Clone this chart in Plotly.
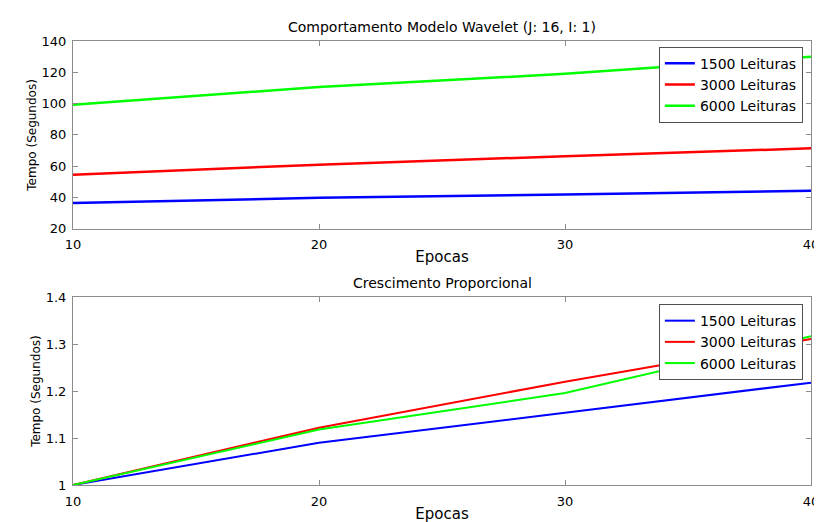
import plotly.graph_objects as go
from plotly.subplots import make_subplots

epocas = [10, 20, 30, 40]
series_names = ["1500 Leituras", "3000 Leituras", "6000 Leituras"]
colors = ["#0000ff", "#ff0000", "#00ff00"]

# Comportamento Modelo Wavelet (seconds)
tempo_1500 = [36.5, 39.8, 42.0, 44.3]
tempo_3000 = [54.6, 61.0, 66.4, 71.4]
tempo_6000 = [99.2, 110.6, 119.0, 130.0]

# Crescimento Proporcional
prop_1500 = [1.0, 1.09, 1.154, 1.218]
prop_3000 = [1.0, 1.122, 1.22, 1.311]
prop_6000 = [1.0, 1.118, 1.196, 1.317]

fig = make_subplots(rows=2, cols=1, vertical_spacing=0.154)

for name, color, ys in zip(series_names, colors, [tempo_1500, tempo_3000, tempo_6000]):
    fig.add_trace(
        go.Scatter(x=epocas, y=ys, mode="lines", name=name,
                   line=dict(color=color, width=2.5), legend="legend"),
        row=1, col=1,
    )
for name, color, ys in zip(series_names, colors, [prop_1500, prop_3000, prop_6000]):
    fig.add_trace(
        go.Scatter(x=epocas, y=ys, mode="lines", name=name,
                   line=dict(color=color, width=2), legend="legend2"),
        row=2, col=1,
    )

axis_style = dict(
    showline=True, linecolor="#8c8c8c", linewidth=1, mirror="ticks",
    ticks="inside", ticklen=5, tickcolor="#8c8c8c", showgrid=False, zeroline=False,
    tickfont=dict(size=13, color="black"),
)
legend_style = dict(
    xanchor="right", yanchor="top", x=0.989,
    bgcolor="white", bordercolor="#505050", borderwidth=1,
    font=dict(size=14, color="black"), tracegroupgap=0,
)

fig.update_xaxes(**axis_style, range=[10, 40], tickvals=epocas, ticklabelstandoff=4)
fig.update_xaxes(title=dict(text="Epocas", font=dict(size=15), standoff=0), row=1, col=1)
fig.update_xaxes(title=dict(text="Epocas", font=dict(size=15), standoff=0), row=2, col=1)
fig.update_yaxes(**axis_style, ticklabelstandoff=3)
fig.update_yaxes(range=[20, 140], dtick=20,
                 title=dict(text="Tempo (Segundos)", font=dict(size=12), standoff=2),
                 row=1, col=1)
fig.update_yaxes(range=[1, 1.4], tickvals=[1, 1.1, 1.2, 1.3, 1.4],
                 ticktext=["1", "1.1", "1.2", "1.3", "1.4"],
                 title=dict(text="Tempo (Segundos)", font=dict(size=12), standoff=2),
                 row=2, col=1)

fig.update_layout(
    width=822, height=522,
    margin=dict(l=65, r=11, t=33, b=35),
    plot_bgcolor="white", paper_bgcolor="white",
    font=dict(family="DejaVu Sans, Arial, sans-serif", color="black"),
    legend=dict(**legend_style, y=0.987),
    legend2=dict(**legend_style, y=0.4075),
    annotations=[
        dict(text="Comportamento Modelo Wavelet (J: 16, I: 1)", x=0.5, y=1.0,
             xref="paper", yref="paper", xanchor="center", yanchor="bottom",
             showarrow=False, font=dict(size=14), yshift=4),
        dict(text="Crescimento Proporcional", x=0.5, y=0.423,
             xref="paper", yref="paper", xanchor="center", yanchor="bottom",
             showarrow=False, font=dict(size=14), yshift=4),
    ],
    showlegend=True,
)

fig.write_html("out.html")
